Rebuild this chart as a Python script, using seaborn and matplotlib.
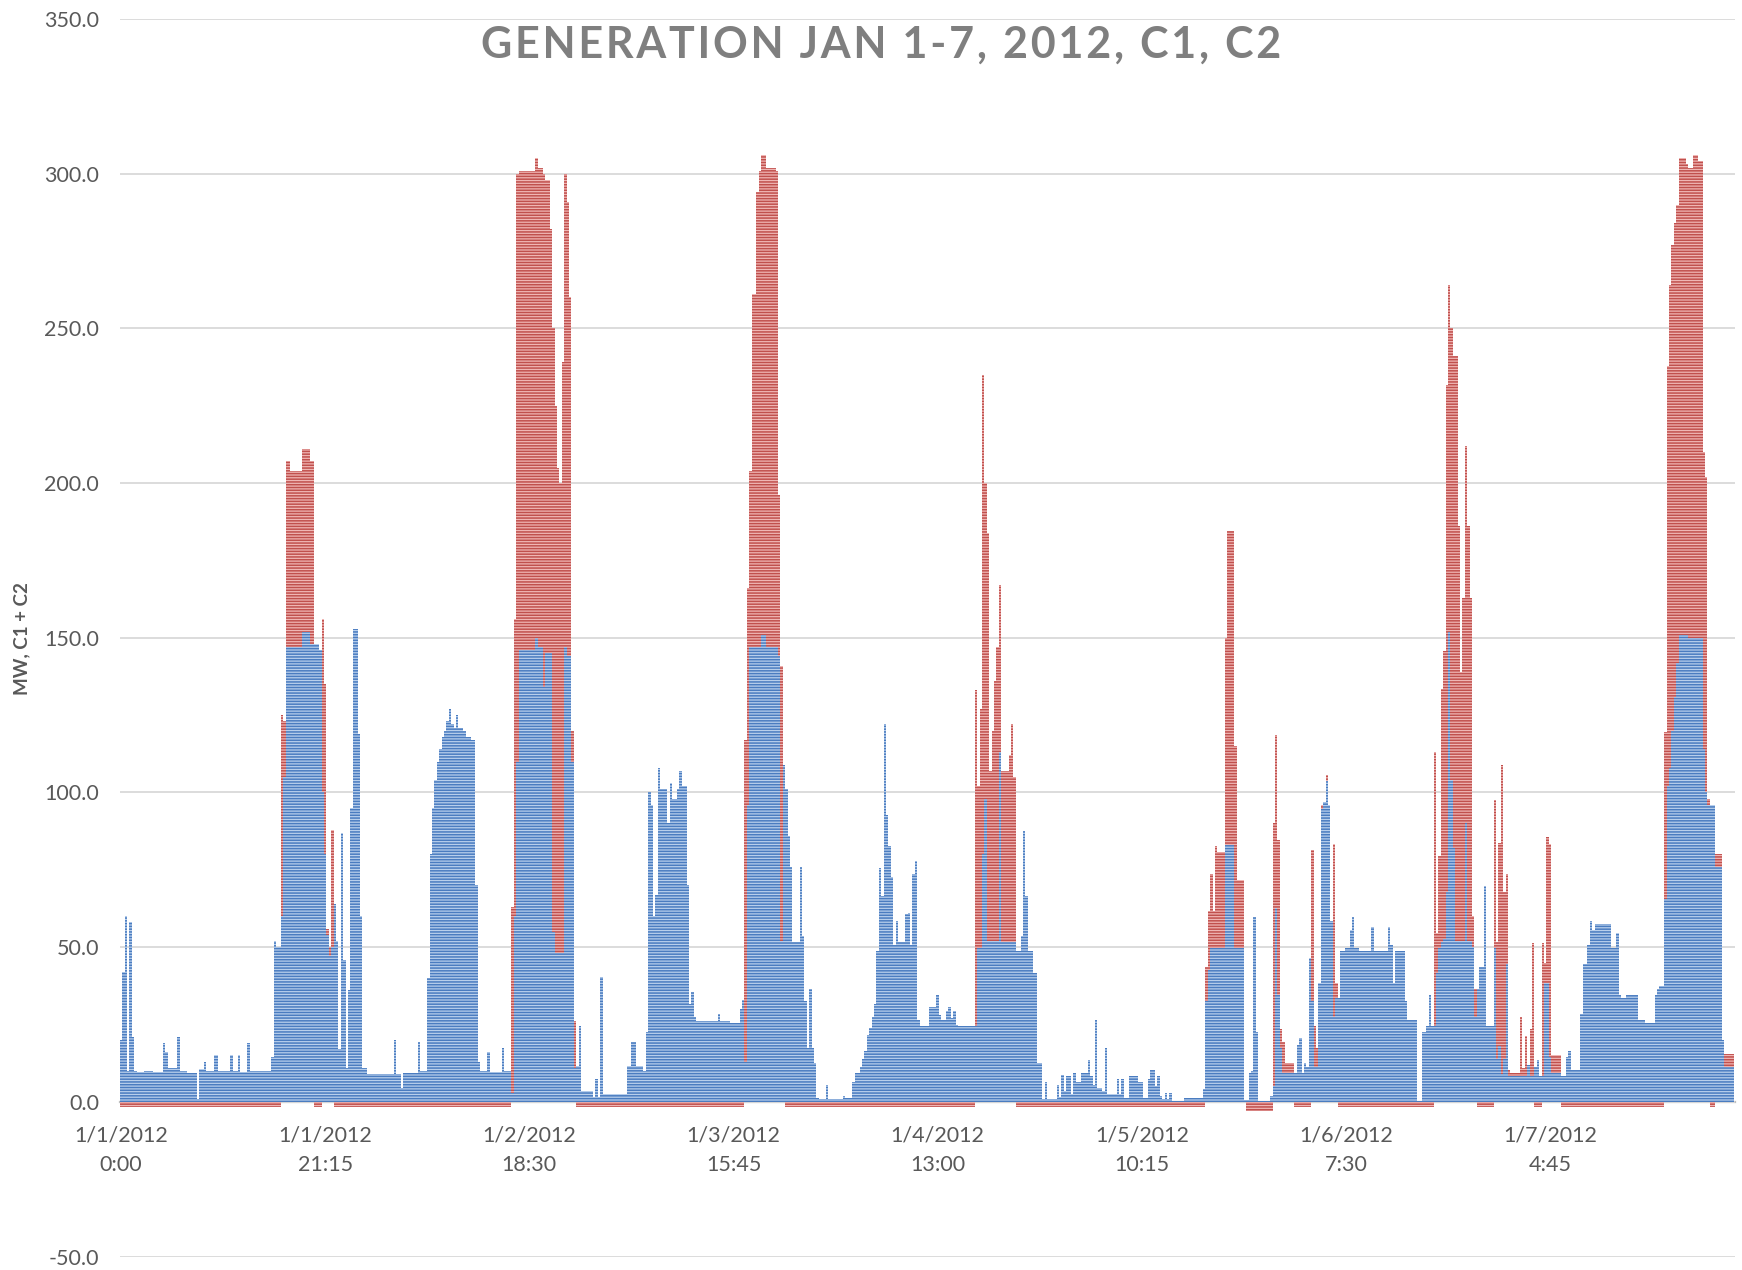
import numpy as np
import pandas as pd
import matplotlib
matplotlib.use("Agg")
import matplotlib.pyplot as plt
import seaborn as sns

# 15-minute readings, Jan 1-7 2012 (672 slots), stored as run starts + MW level
c1_breaks = [0, 1, 2, 3, 4, 5, 6, 7, 10, 14, 18, 19, 20, 24, 25, 28, 32, 33, 35, 36, 39, 41, 46, 47, 49, 50,
             53, 54, 63, 64, 65, 67, 68, 69, 76, 79, 83, 84, 85, 86, 87, 88, 89, 90, 91, 92, 93, 94, 95, 96,
             97, 99, 100, 101, 103, 114, 115, 117, 118, 124, 125, 128, 129, 130, 131, 132, 133, 134, 135, 136,
             137, 138, 139, 140, 141, 143, 144, 146, 148, 149, 150, 153, 154, 159, 160, 163, 164, 165, 166, 173,
             174, 176, 177, 180, 181, 185, 186, 188, 189, 190, 191, 192, 197, 198, 199, 200, 201, 211, 213, 215,
             218, 219, 220, 221, 222, 223, 224, 225, 228, 229, 230, 232, 233, 234, 236, 237, 238, 239, 240, 249,
             250, 254, 258, 259, 260, 261, 262, 267, 269, 274, 275, 276, 277, 278, 279, 280, 283, 284, 285, 286,
             287, 288, 289, 290, 291, 294, 295, 301, 302, 305, 306, 308, 309, 310, 311, 312, 313, 314, 315, 316,
             317, 318, 319, 320, 321, 322, 323, 324, 327, 328, 329, 330, 331, 332, 333, 337, 340, 341, 342, 344,
             345, 346, 347, 348, 349, 357, 359, 360, 361, 366, 367, 373, 375, 376, 377, 378, 380, 382, 384, 385,
             386, 390, 391, 392, 393, 394, 396, 397, 398, 400, 403, 404, 405, 406, 407, 409, 410, 411, 415, 416,
             417, 418, 420, 424, 426, 428, 429, 431, 432, 433, 434, 435, 436, 437, 438, 443, 451, 452, 453, 454,
             460, 464, 468, 470, 471, 472, 473, 474, 479, 480, 481, 482, 483, 484, 490, 491, 492, 493, 494, 495,
             496, 497, 499, 500, 501, 502, 503, 504, 505, 506, 508, 510, 512, 513, 514, 516, 521, 522, 528, 529,
             530, 531, 535, 536, 540, 542, 544, 545, 546, 548, 549, 550, 551, 552, 553, 554, 555, 556, 560, 561,
             563, 564, 565, 566, 568, 569, 572, 573, 574, 575, 576, 577, 578, 586, 587, 589, 590, 591, 593, 595,
             596, 600, 602, 603, 604, 608, 609, 611, 612, 613, 614, 621, 623, 624, 625, 627, 632, 635, 639, 640,
             641, 643, 644, 645, 646, 647, 648, 649, 653, 659, 660, 661, 664, 667, 668]
c1_mw = [20, 42, 60, 10, 58, 21, 10, 9.5, 10, 9.5, 19, 16, 11, 21, 10, 9.4, 1, 10.5, 13, 10, 15, 10, 15, 10, 15, 9.5,
         19, 10, 14.5, 52, 50, 60, 105, 147, 152, 148, 146, 100, 80, 54, 47, 50, 64, 52, 17, 87, 46, 11, 36, 95,
         153, 119, 60, 11, 9, 20, 9, 4.4, 9.4, 19.5, 10, 40, 80, 95, 104, 110, 114, 118, 120, 123,
         127, 122, 121, 125, 121, 120, 118, 117, 70, 13, 10, 16, 9.5, 17.5, 10, 3, 60, 110, 146, 150,
         147, 134, 145, 55, 48, 147, 144, 110, 11, 11.5, 24.5, 3.4, 1.5, 7.4, 1.5, 40.5, 2.4, 11.5, 19.5, 11.5,
         10, 22.5, 100, 96, 60, 67, 108, 101, 90, 103, 98, 101, 107, 102, 70, 31.5, 35.5, 27.5, 26, 28.5,
         26, 25.5, 30, 33, 13, 96, 147, 151, 147, 144, 52, 109, 101, 86, 76, 51.6, 76, 53.6, 32.5, 17.5,
         36.5, 17.5, 12.4, 1.4, 0.8, 5.4, 0.8, 2, 1.4, 6.4, 9.4, 11.4, 14, 16.5, 21.5, 24, 27.5, 31.5, 48.6, 75.7,
         66.7, 122, 92.8, 82.7, 72.7, 50.6, 58.6, 51.6, 60.6, 61, 50.6, 73.7, 77.7, 26.5, 24.5, 30.5, 34.5, 28, 26.5, 29.5,
         30.5, 27, 29.5, 25, 24.5, 49.6, 80, 98, 52, 113, 51.6, 48.6, 53.6, 87.7, 66.7, 48.6, 41.6, 12.4, 0.8, 6.4,
         0.8, 5.4, 1.5, 8.8, 3.5, 8.4, 2.5, 9.4, 6.4, 9.4, 13.4, 8.4, 5.4, 26.5, 4.4, 3.4, 17.5, 2.4, 7.4, 2.4,
         7.4, 1.4, 8.4, 6.4, 1.4, 7.4, 10.4, 5, 8.4, 2, 1, 3, 1, 3, 0.4, 1.4, 4, 32.5, 42.6, 49.6,
         83, 49.6, 0.5, 9.4, 10, 59.6, 22.5, 0.4, 2, 5, 62.7, 34.5, 17.5, 9.4, 18.5, 20.5, 9.4, 12.4, 11.4, 46.6,
         32.5, 11.4, 38.5, 94.8, 96.8, 103.8, 95.8, 58.6, 27.5, 33.5, 48.6, 49.6, 55.6, 59.6, 49.6, 48.6, 56.6, 48.6, 56.6, 50.6,
         38.5, 48.6, 32.5, 26.5, 0.4, 22.5, 24.5, 34.5, 24.5, 41.6, 49.6, 51.6, 52.6, 67.7, 152, 104, 82, 52, 90, 52,
         50, 27.5, 36.5, 43.6, 69.7, 24.5, 49.6, 14, 18, 9, 14, 44.6, 8.4, 12, 8.4, 11.4, 13.4, 8.4, 38.5, 14.5,
         9.4, 8.4, 14.5, 16.5, 10.4, 28.5, 44.6, 50.6, 58.6, 55.6, 57.6, 49.6, 54.6, 34.5, 33.5, 34.5, 26.5, 25.5, 34.5, 36.5,
         37.5, 65.7, 102, 108, 120, 131, 142, 151, 150, 114, 100, 96, 76, 20, 11.4]

c2_breaks = [0, 67, 68, 69, 71, 76, 81, 84, 85, 86, 87, 88, 89, 163, 164, 165, 166, 176, 177, 179, 180, 181, 182,
             183, 184, 185, 186, 187, 188, 189, 190, 260, 261, 262, 263, 265, 266, 267, 273, 274, 275, 276, 277,
             356, 357, 358, 359, 360, 361, 362, 363, 364, 365, 366, 367, 370, 371, 372, 373, 452, 453, 454, 455,
             456, 457, 460, 461, 464, 465, 468, 469, 480, 481, 482, 483, 484, 485, 489, 496, 497, 498, 499, 500,
             501, 502, 503, 505, 506, 507, 547, 548, 549, 550, 551, 552, 553, 554, 555, 556, 557, 558, 559, 560,
             561, 562, 563, 564, 565, 572, 573, 574, 575, 576, 577, 578, 579, 583, 584, 585, 586, 587, 588, 589,
             592, 593, 594, 595, 596, 600, 643, 644, 645, 646, 647, 648, 649, 652, 655, 657, 659, 660, 661, 662,
             664, 667, 668]
c2_mw = [-1.6, 65, 18, 60, 57, 59, -1.6, 56, 55, 2, 3, 38, -1.6, 60, 96, 190, 155, 166, 153, 137, 195, 177, 157,
         152, 191, 153, 147, 116, 10, 15, -1.6, 104, 70, 57, 114, 147, 154, 155, 154, 52, 89, 0, -1.6,
         108.5, 52.4, 77.4, 155, 102, 132, 55, 68, 84, 95, 54, 55.4, 60.4, 70.4, 53.4, -1.6, 11, 19, 24, 12,
         33, 31, 67, 101.5, 65.4, 22, 0, -3, 85, 56, 50, 6, 10, 3, -1.6, 49, 13, 6, 0, 1,
         0, 2, 0, 56, 5, -1.6, 88.5, 13, 30, 82, 93, 164, 112, 146, 159, 189, 134, 87, 111, 122,
         134, 111, 10, 9, -1.6, 48, 37.6, 65.7, 99.8, 53.7, 29, 2, 1, 19, 2.6, 13, 0, 15, 43, -1.6,
         43, 6.5, 47, 69, 5.6, -1.6, 54, 136, 156, 157, 153, 148, 154, 152, 156, 154, 96, 102, 2, -1.6,
         4, 0, 4]

N_SLOTS = 672
start_time = "2012-01-01 00:00"
tick_every = 85
title = "GENERATION JAN 1-7, 2012, C1, C2"

BLUE_DARK, BLUE_LIGHT = "#4a7cc0", "#b8cfec"
RED_DARK, RED_LIGHT = "#c0504d", "#f0b6b4"
TEXT = "#595959"


def expand(breaks, levels):
    counts = np.diff(list(breaks) + [N_SLOTS])
    return np.repeat(levels, counts)


c1 = expand(c1_breaks, c1_mw)
c2 = expand(c2_breaks, c2_mw)
times = pd.date_range(start_time, periods=N_SLOTS, freq="15min")
df = pd.DataFrame({"slot": np.arange(N_SLOTS), "C1": c1, "C2": c2})
df["top"] = df["C1"] + df["C2"].clip(lower=0)
df["neg"] = df["C2"].clip(upper=0)

sns.set_style("white")
plt.rcParams["font.family"] = ["Lato", "DejaVu Sans"]
plt.rcParams["hatch.linewidth"] = 1.1

fig = plt.figure(figsize=(17.42, 12.70), dpi=100)
ax = fig.add_axes([0.0688, 0.0106, 0.9272, 0.9744])

bar_kw = dict(x="slot", native_scale=True, width=1.0, linewidth=0, saturation=1,
              errorbar=None, hatch="------", ax=ax)
# C2 stacked above C1, then C1, then negative C2 below the axis
sns.barplot(data=df[df["C2"] > 0], y="top", color=RED_LIGHT, edgecolor=RED_DARK, **bar_kw)
sns.barplot(data=df, y="C1", color=BLUE_LIGHT, edgecolor=BLUE_DARK, **bar_kw)
sns.barplot(data=df[df["C2"] < 0], y="neg", color=RED_LIGHT, edgecolor=RED_DARK, **bar_kw)

ax.set_xlim(-0.5, N_SLOTS)
ax.set_ylim(-50, 350)
ax.set_yticks(np.arange(-50, 351, 50))
ax.set_yticklabels([f"{v:.1f}" for v in np.arange(-50, 351, 50)])
tick_idx = np.arange(0, N_SLOTS, tick_every)
ax.set_xticks(tick_idx)
ax.set_xticklabels([f"{t.month}/{t.day}/{t.year}\n{t.hour}:{t.minute:02d}" for t in times[tick_idx]])
ax.set_xlabel("")
ax.set_ylabel("")

ax.yaxis.grid(True, color="#d9d9d9", linewidth=1.3)
ax.set_axisbelow(True)
for side in ["left", "top", "right"]:
    ax.spines[side].set_visible(False)
ax.spines["bottom"].set_position(("data", 0))
ax.spines["bottom"].set_color("#bfbfbf")
ax.spines["bottom"].set_linewidth(1.6)
ax.spines["bottom"].set_zorder(0.5)
ax.tick_params(axis="x", length=0, pad=17, labelsize=15.5, labelcolor=TEXT)
ax.tick_params(axis="y", length=0, pad=15, labelsize=15.5, labelcolor=TEXT)
for lbl in ax.get_xticklabels():
    lbl.set_linespacing(1.6)

# Excel-style letter spacing in the title
fig.text(0.506, 0.965, "\u200a".join(title), ha="center", va="center",
         fontsize=31, fontweight="bold", color="#7f7f7f")
fig.text(0.0126, 0.497, "MW, C1 + C2", rotation=90, ha="center", va="center",
         fontsize=13.5, fontweight="bold", color=TEXT)

fig.savefig("out.png", dpi=100)
